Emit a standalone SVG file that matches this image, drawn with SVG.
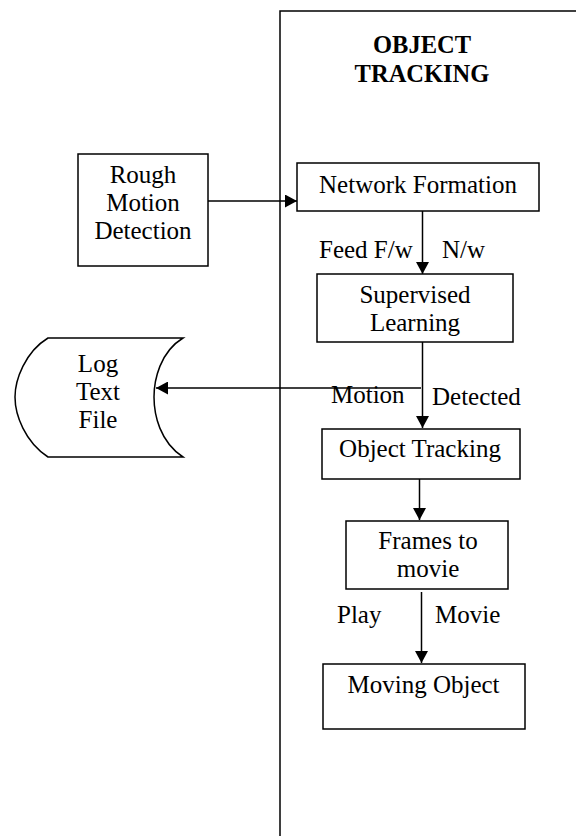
<svg xmlns="http://www.w3.org/2000/svg" width="576" height="836" viewBox="0 0 576 836">
<style>
.box{fill:#fff;stroke:#000;stroke-width:1.5}
.ln{fill:none;stroke:#000;stroke-width:1.5}
text{font-family:"Liberation Serif","Times New Roman",serif;font-size:25px;fill:#000}
.c{text-anchor:middle}
.b{font-weight:bold;font-size:24.5px}
</style>
<defs>
<marker id="ah" markerUnits="userSpaceOnUse" markerWidth="13" markerHeight="13" refX="12" refY="6.5" orient="auto">
<path d="M0,0 L12,6.5 L0,13 Z" fill="#000"/>
</marker>
</defs>
<rect width="576" height="836" fill="#fff"/>
<g id="frame">
<path class="ln" d="M280,836 V11 H580"/>
<text class="c b" x="422" y="53">OBJECT</text>
<text class="c b" x="422" y="82">TRACKING</text>
</g>
<g id="connectors">
<line class="ln" x1="203" y1="201" x2="297" y2="201" marker-end="url(#ah)"/>
<line class="ln" x1="422.5" y1="204" x2="422.5" y2="274" marker-end="url(#ah)"/>
<line class="ln" x1="422.5" y1="342" x2="422.5" y2="428" marker-end="url(#ah)"/>
<line class="ln" x1="421" y1="388" x2="156" y2="388" marker-end="url(#ah)"/>
<line class="ln" x1="419.5" y1="473" x2="419.5" y2="520" marker-end="url(#ah)"/>
<line class="ln" x1="421.5" y1="592" x2="421.5" y2="663" marker-end="url(#ah)"/>
<text x="319" y="258">Feed F/w</text>
<text x="442" y="258">N/w</text>
<text x="331" y="403">Motion</text>
<text x="432" y="405">Detected</text>
<text x="337" y="623">Play</text>
<text x="435" y="623">Movie</text>
</g>
<g id="rough">
<rect class="box" x="78" y="154" width="130" height="112"/>
<text class="c" x="143" y="183">Rough</text>
<text class="c" x="143" y="211">Motion</text>
<text class="c" x="143" y="239">Detection</text>
</g>
<g id="network">
<rect class="box" x="297" y="163" width="242" height="48"/>
<text class="c" x="418" y="193">Network Formation</text>
</g>
<g id="supervised">
<rect class="box" x="317" y="274" width="196" height="68"/>
<text class="c" x="415" y="303">Supervised</text>
<text class="c" x="415" y="331">Learning</text>
</g>
<g id="log">
<path class="box" d="M48,338 H183 C160,352 154,380 154,397 C154,415 160,442 183,457 H48 C25,442 15,415 15,397 C15,380 25,352 48,338 Z"/>
<text class="c" x="98" y="372">Log</text>
<text class="c" x="98" y="400">Text</text>
<text class="c" x="98" y="428">File</text>
</g>
<g id="objtrack">
<rect class="box" x="322" y="429" width="198" height="50"/>
<text class="c" x="420" y="457">Object Tracking</text>
</g>
<g id="frames">
<rect class="box" x="346" y="521" width="162" height="68"/>
<text class="c" x="428" y="549">Frames to</text>
<text class="c" x="428" y="577">movie</text>
</g>
<g id="moving">
<rect class="box" x="323" y="664" width="202" height="65"/>
<text class="c" x="423.5" y="693">Moving Object</text>
</g>
</svg>
